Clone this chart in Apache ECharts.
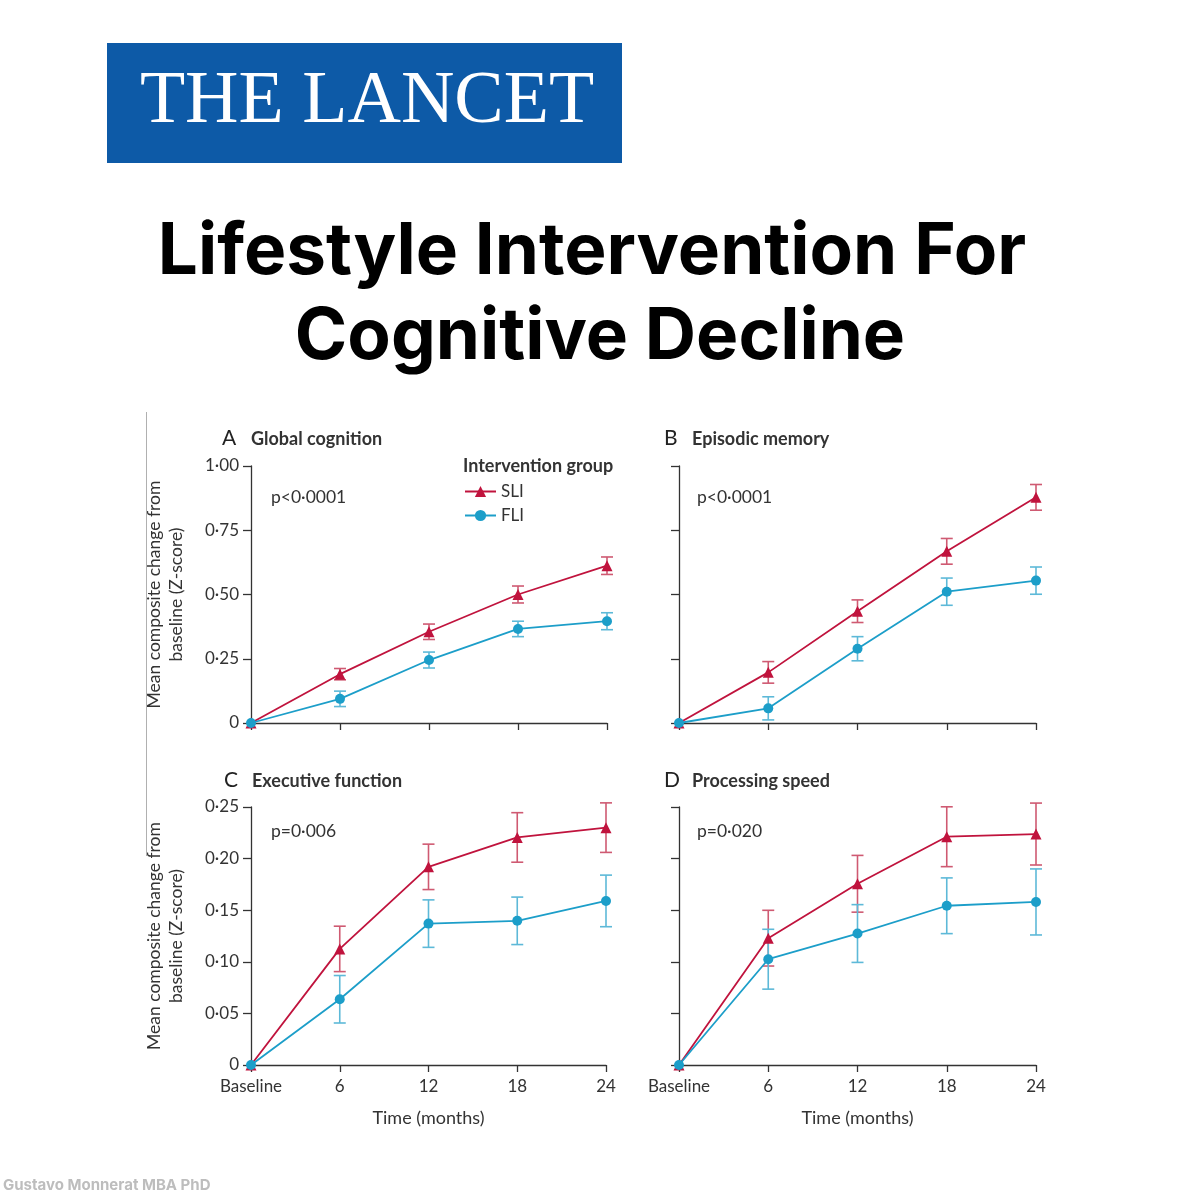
<!DOCTYPE html>
<html>
<head>
<meta charset="utf-8">
<script src="https://cdn.jsdelivr.net/npm/echarts@6/dist/echarts.min.js"></script>
<style>
html,body{margin:0;padding:0;background:#fff;}
#chart{width:1200px;height:1200px;}
</style>
</head>
<body>
<div id="chart"></div>
<script>
// ---------- data ----------
const categories = ['Baseline', '6', '12', '18', '24'];

const A_SLI = [0, 0.190, 0.355, 0.500, 0.612];
const A_SLI_err = [0, 0.022, 0.030, 0.033, 0.034];
const A_FLI = [0, 0.094, 0.245, 0.366, 0.396];
const A_FLI_err = [0, 0.030, 0.031, 0.030, 0.033];

const B_SLI = [0, 0.197, 0.435, 0.668, 0.878];
const B_SLI_err = [0, 0.042, 0.044, 0.050, 0.050];
const B_FLI = [0, 0.057, 0.289, 0.511, 0.554];
const B_FLI_err = [0, 0.045, 0.047, 0.053, 0.053];

const C_SLI = [0, 0.1125, 0.192, 0.2205, 0.230];
const C_SLI_err = [0, 0.022, 0.022, 0.024, 0.024];
const C_FLI = [0, 0.0637, 0.137, 0.1397, 0.159];
const C_FLI_err = [0, 0.023, 0.023, 0.023, 0.025];

const D_SLI = [0, 0.1229, 0.1756, 0.2212, 0.2238];
const D_SLI_err = [0, 0.027, 0.0275, 0.029, 0.030];
const D_FLI = [0, 0.1025, 0.1274, 0.1543, 0.158];
const D_FLI_err = [0, 0.029, 0.028, 0.027, 0.032];

const panelTitles = ['Global cognition', 'Episodic memory', 'Executive function', 'Processing speed'];
const panelLetters = ['A', 'B', 'C', 'D'];
const pValues = ['p<0·0001', 'p<0·0001', 'p=0·006', 'p=0·020'];

// ---------- styling ----------
const SLI_COLOR = '#c0133d';
const SLI_ERR = '#cf5a72';
const FLI_COLOR = '#1c9ec9';
const FLI_ERR = '#5db9d8';
const AXIS_COLOR = '#333';
const FONT = 'Lato, "Open Sans", sans-serif';

const panels = [
  { sli: A_SLI, sliErr: A_SLI_err, fli: A_FLI, fliErr: A_FLI_err, max: 1, interval: 0.25, showY: true, showX: false },
  { sli: B_SLI, sliErr: B_SLI_err, fli: B_FLI, fliErr: B_FLI_err, max: 1, interval: 0.25, showY: false, showX: false },
  { sli: C_SLI, sliErr: C_SLI_err, fli: C_FLI, fliErr: C_FLI_err, max: 0.25, interval: 0.05, showY: true, showX: true },
  { sli: D_SLI, sliErr: D_SLI_err, fli: D_FLI, fliErr: D_FLI_err, max: 0.25, interval: 0.05, showY: false, showX: true }
];

const grids = [
  { left: 251, top: 466, width: 356, height: 257 },
  { left: 679, top: 466, width: 357, height: 257 },
  { left: 251, top: 807, width: 355, height: 258 },
  { left: 679, top: 807, width: 357, height: 258 }
];

function fmtY(v) {
  if (v === 0) return '0';
  return v.toFixed(2).replace('.', '·');
}

const xAxes = [], yAxes = [], series = [];
panels.forEach((p, i) => {
  xAxes.push({
    type: 'category', gridIndex: i, data: categories, boundaryGap: false,
    axisLine: { lineStyle: { color: AXIS_COLOR, width: 1.3 } },
    axisTick: { show: true, inside: false, length: 7, lineStyle: { color: AXIS_COLOR, width: 1.3 } },
    axisLabel: { show: p.showX, color: AXIS_COLOR, fontSize: 17, fontFamily: FONT, margin: 13 },
    name: p.showX ? 'Time (months)' : '', nameLocation: 'middle', nameGap: 44,
    nameTextStyle: { color: AXIS_COLOR, fontSize: 18, fontFamily: FONT },
    splitLine: { show: false }
  });
  yAxes.push({
    type: 'value', gridIndex: i, min: 0, max: p.max, interval: p.interval,
    axisLine: { show: true, lineStyle: { color: AXIS_COLOR, width: 1.3 } },
    axisTick: { show: true, length: 8, lineStyle: { color: AXIS_COLOR, width: 1.3 } },
    axisLabel: { show: p.showY, color: AXIS_COLOR, fontSize: 17, fontFamily: FONT, margin: 12,
      formatter: v => fmtY(v) },
    splitLine: { show: false },
    name: p.showY ? 'Mean composite change from\nbaseline (Z-score)' : '',
    nameLocation: 'middle', nameGap: 64, nameRotate: 90,
    nameTextStyle: { color: AXIS_COLOR, fontSize: 17.5, fontFamily: FONT, lineHeight: 22 }
  });

  const errItem = (vals, errs) => vals.map((v, k) => [k, v - errs[k], v + errs[k]]);
  const errSeries = (name, vals, errs, color) => ({
    type: 'custom', name: name + ' error', xAxisIndex: i, yAxisIndex: i, z: 1,
    silent: true,
    data: errItem(vals, errs),
    encode: { x: 0, y: [1, 2] },
    renderItem: function (params, api) {
      const x = api.value(0), lo = api.value(1), hi = api.value(2);
      if (hi - lo <= 0) return;
      const a = api.coord([x, lo]);
      const b = api.coord([x, hi]);
      const w = 6;
      const st = { stroke: color, lineWidth: 1.6, fill: null };
      return {
        type: 'group', children: [
          { type: 'line', shape: { x1: a[0], y1: a[1], x2: b[0], y2: b[1] }, style: st },
          { type: 'line', shape: { x1: a[0] - w, y1: a[1], x2: a[0] + w, y2: a[1] }, style: st },
          { type: 'line', shape: { x1: b[0] - w, y1: b[1], x2: b[0] + w, y2: b[1] }, style: st }
        ]
      };
    }
  });
  series.push(errSeries('SLI', p.sli, p.sliErr, SLI_ERR));
  series.push(errSeries('FLI', p.fli, p.fliErr, FLI_ERR));
  series.push({
    type: 'line', name: 'SLI', xAxisIndex: i, yAxisIndex: i, data: p.sli, z: 3,
    symbol: 'triangle', symbolSize: 11, showAllSymbol: true,
    lineStyle: { color: SLI_COLOR, width: 1.8 }, itemStyle: { color: SLI_COLOR },
    emphasis: { disabled: true }, animation: false
  });
  series.push({
    type: 'line', name: 'FLI', xAxisIndex: i, yAxisIndex: i, data: p.fli, z: 4,
    symbol: 'circle', symbolSize: 10, showAllSymbol: true,
    lineStyle: { color: FLI_COLOR, width: 1.8 }, itemStyle: { color: FLI_COLOR },
    emphasis: { disabled: true }, animation: false
  });
});

// ---------- decorative text ----------
const graphics = [
  { type: 'rect', shape: { x: 107, y: 43, width: 515, height: 120 }, style: { fill: '#0d5aa7' }, z: 0 },
  { type: 'text', x: 367, y: 103, style: { text: 'THE LANCET', fill: '#ffffff', font: '74px "Liberation Serif", "DejaVu Serif", serif', align: 'center', verticalAlign: 'middle' } },
  { type: 'text', x: 592, y: 253, style: { text: 'Lifestyle Intervention For', fill: '#000', font: 'bold 71px Inter, Roboto, sans-serif', align: 'center', verticalAlign: 'middle' } },
  { type: 'text', x: 600, y: 338, style: { text: 'Cognitive Decline', fill: '#000', font: 'bold 71px Inter, Roboto, sans-serif', align: 'center', verticalAlign: 'middle' } },
  { type: 'text', x: 3, y: 1185, style: { text: 'Gustavo Monnerat MBA PhD', fill: '#bdbdbd', font: 'bold 15px Inter, Roboto, sans-serif', align: 'left', verticalAlign: 'middle' } },
  { type: 'line', shape: { x1: 146.5, y1: 412, x2: 146.5, y2: 856 }, style: { stroke: '#b0b0b0', lineWidth: 1 } },
  { type: 'text', x: 463, y: 466, style: { text: 'Intervention group', fill: '#333', font: 'bold 18px ' + FONT, align: 'left', verticalAlign: 'middle' } }
];
const letterPos = [[222, 438], [664, 438], [224, 780], [664, 780]];
letterPos.forEach((pos, i) => {
  graphics.push({ type: 'text', x: pos[0], y: pos[1], style: { text: panelLetters[i], fill: '#222', font: '21px ' + FONT, align: 'left', verticalAlign: 'middle' } });
  graphics.push({ type: 'text', x: pos[0] + (i === 2 ? 28 : 29) - (i % 2 === 1 ? 1 : 0), y: pos[1] + 1, style: { text: panelTitles[i], fill: '#333', font: 'bold 18px ' + FONT, align: 'left', verticalAlign: 'middle' } });
});
const pPos = [[271, 497], [697, 497], [271, 831], [697, 831]];
pPos.forEach((pos, i) => {
  graphics.push({ type: 'text', x: pos[0], y: pos[1], style: { text: pValues[i], fill: '#333', font: '17.5px ' + FONT, align: 'left', verticalAlign: 'middle' } });
});

const chart = echarts.init(document.getElementById('chart'));
chart.setOption({
  animation: false,
  backgroundColor: '#fff',
  grid: grids,
  xAxis: xAxes,
  yAxis: yAxes,
  series: series,
  legend: {
    data: ['SLI', 'FLI'], orient: 'vertical', left: 459, top: 478,
    itemWidth: 31, itemHeight: 14, itemGap: 7,
    textStyle: { color: '#333', fontSize: 17, fontFamily: FONT },
    selectedMode: false
  },
  graphic: graphics
});
</script>
</body>
</html>
